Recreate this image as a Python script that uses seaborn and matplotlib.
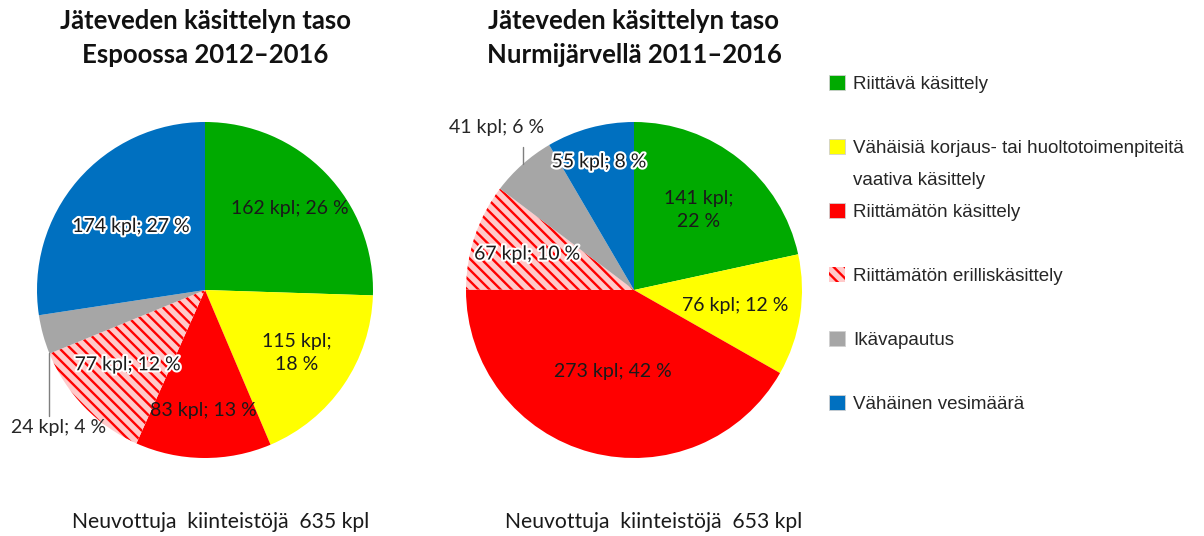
import numpy as np
import matplotlib
matplotlib.use("Agg")
import matplotlib.pyplot as plt
import matplotlib.patheffects as pe
from matplotlib.patches import Patch
import seaborn as sns

sns.set_theme(style="white")
plt.rcParams['font.family'] = ['Lato', 'DejaVu Sans']
plt.rcParams['hatch.linewidth'] = 1.7

# luokat ja värit
categories = ["Riittävä käsittely",
              "Vähäisiä korjaus- tai huoltotoimenpiteitä",
              "Riittämätön käsittely",
              "Riittämätön erilliskäsittely",
              "Ikävapautus",
              "Vähäinen vesimäärä"]
colors = ["#00aa00", "#ffff00", "#ff0000", "#ffcaca", "#a6a6a6", "#0070c0"]

# Espoo
espoo_kpl = [162, 115, 83, 77, 24, 174]
espoo_pct = [26, 18, 13, 12, 4, 27]
# Nurmijärvi
nurmi_kpl = [141, 76, 273, 67, 41, 55]
nurmi_pct = [22, 12, 42, 10, 6, 8]

# etäisyys keskipisteestä tekstille (osuus säteestä)
espoo_r = [0.70, 0.66, 0.72, 0.64, None, 0.58]
nurmi_r = [0.61, 0.61, 0.50, 0.67, None, 0.79]
espoo_wrap = [False, True, False, False, False, False]
nurmi_wrap = [True, False, False, False, False, False]
glow = [False, False, False, True, True, True]

fig = plt.figure(figsize=(12.04, 5.36), dpi=100)
W, H = 1204, 536
L = 1.25
size = 2 * L * 168


def draw_pie(cx, cy, kpl, pct, radii, wrap, title, total, outside, note_x):
    ax = fig.add_axes([(cx - size / 2) / W, (H - cy - size / 2) / H, size / W, size / H])
    wedges, _ = ax.pie(kpl, colors=colors, startangle=90, counterclock=False,
                       radius=1, wedgeprops=dict(linewidth=0))
    wedges[3].set_hatch('\\\\\\')
    wedges[3].set_edgecolor('#ff0000')
    ax.set_xlim(-L, L)
    ax.set_ylim(-L, L)
    ax.set_aspect('equal')
    ax.axis('off')

    for i, w in enumerate(wedges):
        lab = f"{kpl[i]} kpl; {pct[i]} %"
        if wrap[i]:
            lab = f"{kpl[i]} kpl;\n{pct[i]} %"
        if radii[i] is None:
            # ulkopuolinen teksti viivalla
            a0, ar, tx, ty = outside
            t0 = np.deg2rad(a0)
            ax.plot([np.cos(t0), np.cos(t0)], [np.sin(t0), ar], color='#7f7f7f', lw=1)
            ax.text(tx, ty, lab, ha='center', va='center', fontsize=14, color='#262626')
            continue
        mid = np.deg2rad((w.theta1 + w.theta2) / 2)
        x, y = radii[i] * np.cos(mid), radii[i] * np.sin(mid)
        t = ax.text(x, y, lab, ha='center', va='center', fontsize=14,
                    color='#1a1a1a', linespacing=1.45)
        if glow[i]:
            t.set_path_effects([pe.withStroke(linewidth=3, foreground='white')])

    fig.text(cx / W, 1 - 38 / H, title, ha='center', va='center', fontsize=18.5,
             fontweight='bold', color='#111111', linespacing=1.5)
    fig.text(note_x / W, 1 - 522 / H, f"Neuvottuja  kiinteistöjä  {total} kpl",
             ha='center', va='center', fontsize=15.2, color='#1a1a1a')


draw_pie(205, 290, espoo_kpl, espoo_pct, espoo_r, espoo_wrap,
         "Jäteveden käsittelyn taso\nEspoossa 2012–2016", sum(espoo_kpl),
         (90 - 247.8, -0.75, -0.87, -0.82), 221)
draw_pie(634, 290, nurmi_kpl, nurmi_pct, nurmi_r, nurmi_wrap,
         "Jäteveden käsittelyn taso\nNurmijärvellä 2011–2016", sum(nurmi_kpl),
         (90 - 318.6 + 360, 0.85, -0.82, 0.97), 654)

# selite tyhjillä riveillä
blank = Patch(facecolor='none', edgecolor='none')
handles, labels = [], []
for i, c in enumerate(categories):
    p = Patch(facecolor=colors[i], edgecolor='#d0d0d0', linewidth=0.6)
    if i == 3:
        p = Patch(facecolor=colors[i], edgecolor='#ff0000', hatch='\\\\\\', linewidth=0)
    handles.append(p)
    labels.append(c)
    if i == 1:
        handles.append(blank)
        labels.append("vaativa käsittely")
    elif i < 5:
        handles.append(blank)
        labels.append(" ")

fig.legend(handles, labels, loc='upper left', bbox_to_anchor=(829 / W, 1 - 75 / H),
           frameon=False, borderpad=0, borderaxespad=0,
           prop={'family': 'Liberation Sans', 'size': 13.5},
           handlelength=0.85, handleheight=0.85, handletextpad=0.43,
           labelspacing=0.75)

fig.savefig("out.png", dpi=100, facecolor='white')
